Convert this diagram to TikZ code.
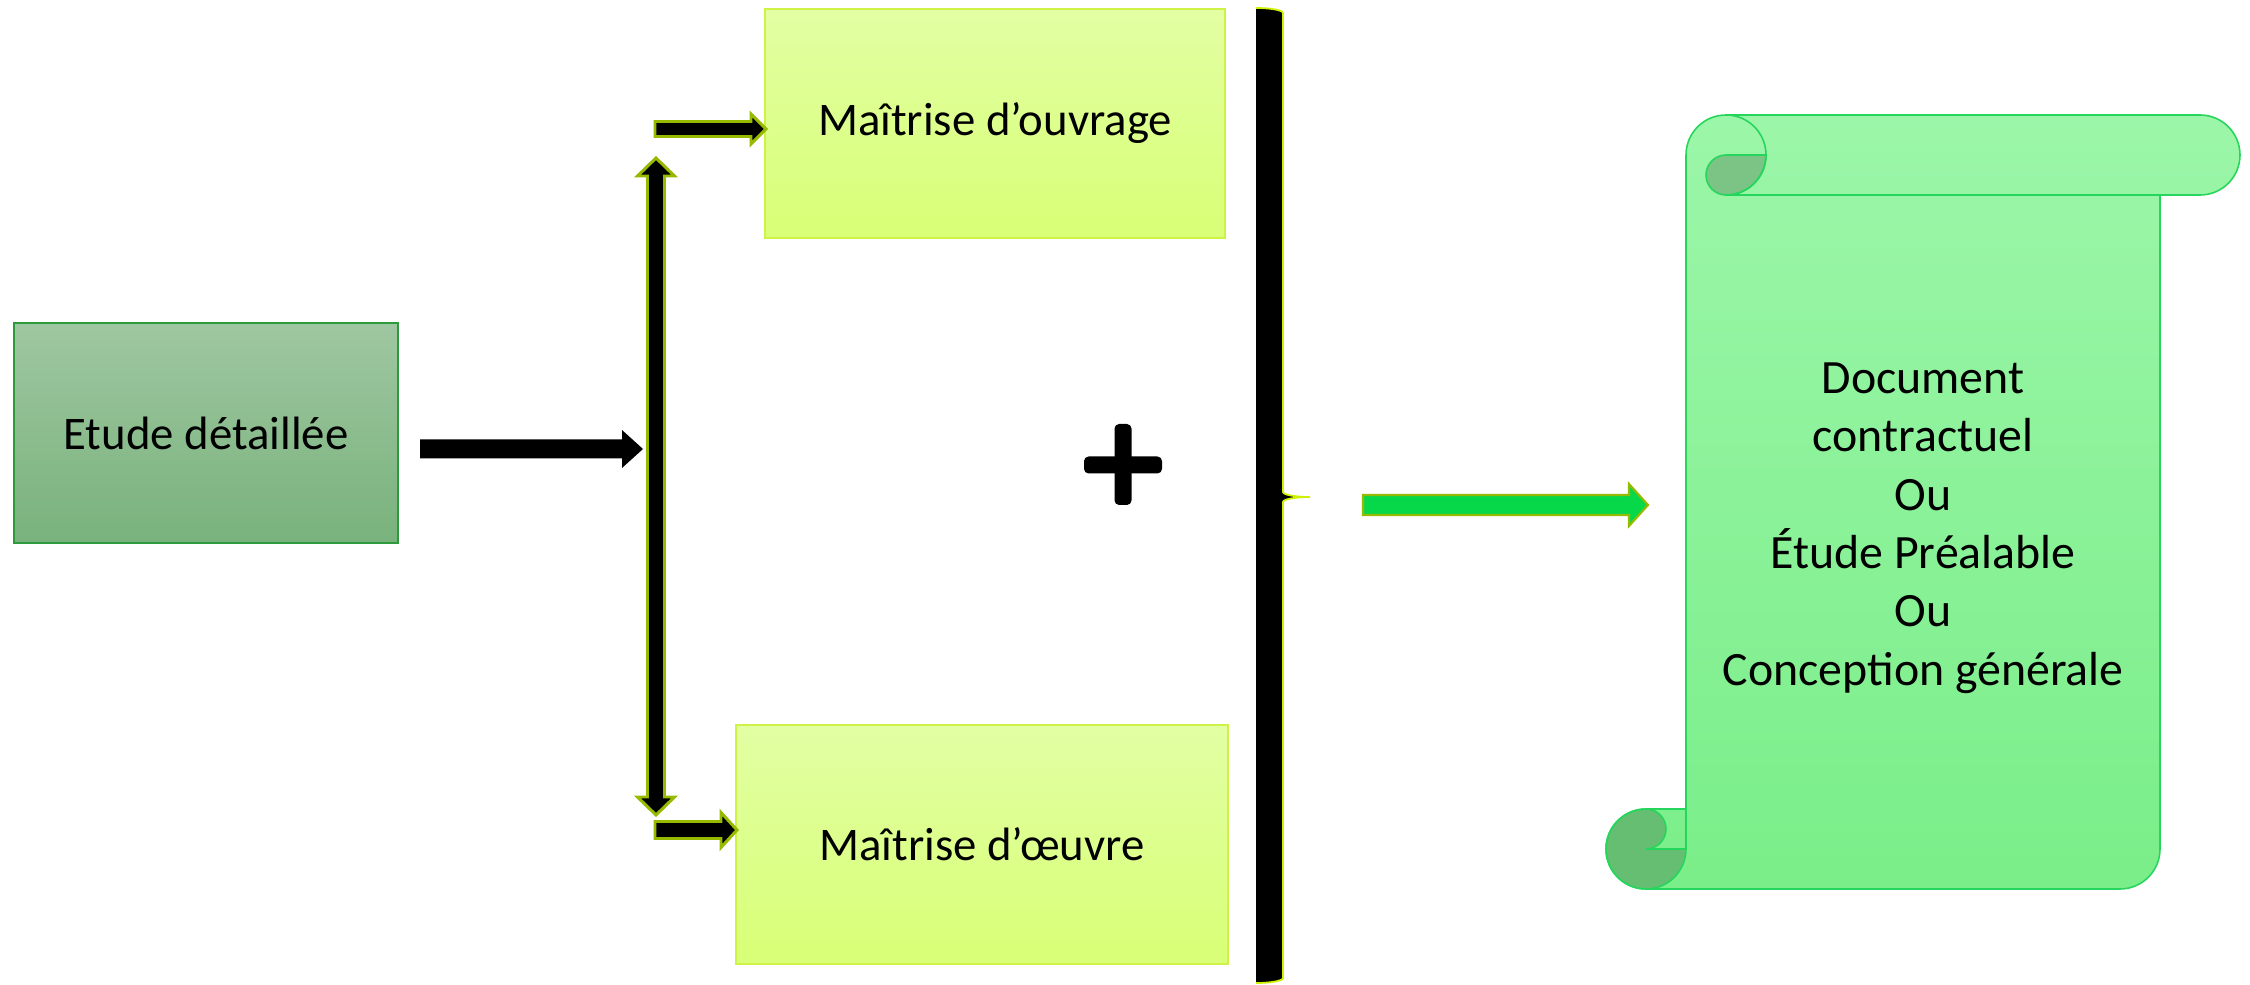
\documentclass[tikz,border=0pt]{standalone}
\usepackage{fontspec}
\setmainfont{Carlito}
\usetikzlibrary{calc}

% one drawing unit = 0.01cm
\newlength\pxu
\setlength\pxu{0.01cm}

\definecolor{etudeTop}{RGB}{159,199,161}
\definecolor{etudeBot}{RGB}{121,178,124}
\definecolor{etudeEdge}{RGB}{46,154,62}
\definecolor{moTop}{RGB}{226,255,163}
\definecolor{moBot}{RGB}{216,255,118}
\definecolor{moEdge}{RGB}{206,242,70}
\definecolor{arrowEdge}{RGB}{150,186,0}
\definecolor{arrowGreen}{RGB}{6,216,74}
\definecolor{braceEdge}{RGB}{208,242,0}
\definecolor{scrollTop}{RGB}{156,246,169}
\definecolor{scrollBot}{RGB}{122,238,137}
\definecolor{scrollEdge}{RGB}{38,214,92}
\definecolor{curlTop}{RGB}{123,196,134}
\definecolor{curlBot}{RGB}{102,190,114}

% horizontal block arrow: style, tail, tip, shaft half-width, head half-width, head length
\newcommand\hblock[6]{%
  \path[#1] let \p1=(#2), \p2=(#3) in
    (\x1,{\y1+#4*\pxu}) -- ({\x2-#6*\pxu},{\y1+#4*\pxu}) --
    ({\x2-#6*\pxu},{\y1+#5*\pxu}) -- (\x2,\y1) --
    ({\x2-#6*\pxu},{\y1-#5*\pxu}) -- ({\x2-#6*\pxu},{\y1-#4*\pxu}) --
    (\x1,{\y1-#4*\pxu}) -- cycle;}

\tikzset{
  txt/.style={font=\fontsize{13.3}{16.5}\selectfont, text=black},
  greenbox/.style={txt, draw=etudeEdge, line width=0.45pt,
    top color=etudeTop, bottom color=etudeBot, inner sep=0pt},
  yellowbox/.style={txt, draw=moEdge, line width=0.45pt,
    top color=moTop, bottom color=moBot, inner sep=0pt},
  plainarrow/.style={fill=black},
  edgedarrow/.style={fill=black, draw=arrowEdge, line width=0.85pt},
  greenarrow/.style={fill=arrowGreen, draw=arrowEdge, line width=0.6pt},
  scrollline/.style={draw=scrollEdge, line width=0.45pt},
}

\begin{document}
\begin{tikzpicture}[x=0.01cm, y=-0.01cm]
\useasboundingbox (0,0) rectangle (2250,985);

% boxes
\node[greenbox, minimum width=3.84cm, minimum height=2.20cm] (etude) at (206,433) {Etude détaillée};
\node[yellowbox, minimum width=4.60cm, minimum height=2.29cm] (mo) at (995,123.5) {Maîtrise d’ouvrage};
\node[yellowbox, minimum width=4.92cm, minimum height=2.39cm] (moe) at (982,844.5) {Maîtrise d’œuvre};

% arrow ends
\coordinate (a1) at (420,449);  \coordinate (a2) at (643,449);
\coordinate (vt) at (656,158);  \coordinate (vb) at (656,815);
\coordinate (t1) at (655,129);  \coordinate (t2) at (766,129);
\coordinate (b1) at (655,830);  \coordinate (b2) at (737,830);
\coordinate (g1) at (1363,505); \coordinate (g2) at (1648,505);

% Etude -> split
\hblock{plainarrow}{a1}{a2}{9.5}{19}{21}

% vertical double arrow
\path[edgedarrow] let \p1=(vt), \p2=(vb) in
  (\x1,\y1) -- ({\x1+18.5*\pxu},{\y1-18*\pxu}) -- ({\x1+8.5*\pxu},{\y1-18*\pxu}) --
  ({\x1+8.5*\pxu},{\y2+18*\pxu}) -- ({\x1+18.5*\pxu},{\y2+18*\pxu}) -- (\x1,\y2) --
  ({\x1-18.5*\pxu},{\y2+18*\pxu}) -- ({\x1-8.5*\pxu},{\y2+18*\pxu}) --
  ({\x1-8.5*\pxu},{\y1-18*\pxu}) -- ({\x1-18.5*\pxu},{\y1-18*\pxu}) -- cycle;

% branches to the two boxes
\hblock{edgedarrow}{t1}{t2}{7.5}{15}{15}
\hblock{edgedarrow}{b1}{b2}{8.5}{17.5}{16}

% plus sign
\fill[black, rounded corners=1.3pt] (1084,456.5) rectangle (1162,473.5);
\fill[black, rounded corners=1.3pt] (1114.5,424) rectangle (1131.5,505);

% right brace
\fill[black] (1256,8) arc[start angle=270,end angle=360,x radius=27,y radius=5]
  -- (1283,492) arc[start angle=180,end angle=90,x radius=27,y radius=5]
  arc[start angle=270,end angle=180,x radius=27,y radius=5]
  -- (1283,978) arc[start angle=0,end angle=90,x radius=27,y radius=5] -- cycle;
\draw[braceEdge, line width=0.5pt] (1256,8) arc[start angle=270,end angle=360,x radius=27,y radius=5]
  -- (1283,492) arc[start angle=180,end angle=90,x radius=27,y radius=5]
  arc[start angle=270,end angle=180,x radius=27,y radius=5]
  -- (1283,978) arc[start angle=0,end angle=90,x radius=27,y radius=5];

% result arrow
\hblock{greenarrow}{g1}{g2}{10}{21}{19}

% scroll sheet
\path[top color=scrollTop, bottom color=scrollBot]
  (1686,155) arc[start angle=180,end angle=270,radius=40] -- (2200,115)
  arc[start angle=270,end angle=450,radius=40] -- (2160,195) -- (2160,849)
  arc[start angle=0,end angle=90,radius=40] -- (1646,889)
  arc[start angle=90,end angle=270,radius=40] -- (1686,809) -- cycle;
% rolled parts
\path[fill=curlTop, scrollline] (1726,155) -- (1766,155)
  arc[start angle=0,end angle=90,radius=40]
  arc[start angle=90,end angle=270,radius=20] -- cycle;
\path[fill=curlBot, scrollline] (1646,809)
  arc[start angle=270,end angle=90,radius=40]
  arc[start angle=90,end angle=0,radius=40] -- (1646,849)
  arc[start angle=90,end angle=-90,radius=20] -- cycle;
% outlines
\path[scrollline]
  (1686,155) arc[start angle=180,end angle=270,radius=40] -- (2200,115)
  arc[start angle=270,end angle=450,radius=40] -- (2160,195) -- (2160,849)
  arc[start angle=0,end angle=90,radius=40] -- (1646,889)
  arc[start angle=90,end angle=270,radius=40] -- (1686,809) -- cycle;
\path[scrollline] (1726,115) arc[start angle=270,end angle=450,radius=40] -- (2160,195);
\path[scrollline] (1686,809) -- (1686,849);

\node[txt, font=\fontsize{13.6}{16.6}\selectfont, align=center] (doc) at (1923,528)
  {Document\\contractuel\\Ou\\Étude Préalable\\Ou\\Conception générale};
\end{tikzpicture}
\end{document}
